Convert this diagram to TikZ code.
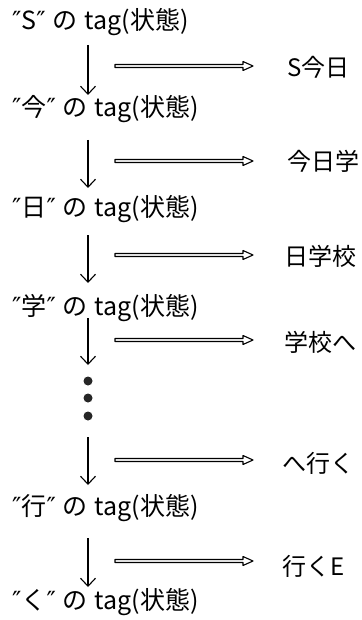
\documentclass[tikz,border=0pt]{standalone}
\usepackage{fontspec}
\setmainfont{Noto Sans CJK JP}
\newfontfamily\qfont{DejaVu Sans}
\usetikzlibrary{arrows.meta,calc}
\newcommand\qm{{\qfont ″}}
\newcommand\gapw{\hspace{7pt}}
\tikzset{
  lbl/.style={anchor=base west, inner sep=0pt, font=\fontsize{25}{28}\selectfont},
  outt/.style={anchor=base west, inner sep=0pt, font=\fontsize{24}{28}\selectfont},
  down/.style={line width=1.1pt, -{Straight Barb[length=8pt,width=15pt,line width=1.1pt]}},
  dblline/.style={line width=1.1pt, line join=round},
  dotc/.style={circle, fill=black!85, inner sep=0pt, minimum size=9pt}
}
\newcommand\dblarr[2]{%
  \draw[dblline] ($(#1)+(0,1.5)$) -- ($(#2)+(-10,1.5)$) -- ($(#2)+(-10,4.5)$) -- (#2)
    -- ($(#2)+(-10,-4.5)$) -- ($(#2)+(-10,-1.5)$) -- ($(#1)+(0,-1.5)$) -- cycle;}
\begin{document}
\begin{tikzpicture}[x=1pt,y=-1pt]
\useasboundingbox (0,0) rectangle (361,620);
% state labels
\node[lbl] (s1) at (12,30)  {\qm S\qm\gapw の\gapw tag(状態)};
\node[lbl] (s2) at (12,117) {\qm 今\qm\gapw の\gapw tag(状態)};
\node[lbl] (s3) at (12,216) {\qm 日\qm\gapw の\gapw tag(状態)};
\node[lbl] (s4) at (12,315) {\qm 学\qm\gapw の\gapw tag(状態)};
\node[lbl] (s5) at (12,515) {\qm 行\qm\gapw の\gapw tag(状態)};
\node[lbl] (s6) at (12,609) {\qm く\qm\gapw の\gapw tag(状態)};
% dots
\node[dotc] (d1) at (88,381) {};
\node[dotc] (d2) at (88,398) {};
\node[dotc] (d3) at (88,416) {};
% down arrows
\coordinate (a1s) at (88,45);  \coordinate (a1e) at (88,95);
\coordinate (a2s) at (88,140); \coordinate (a2e) at (88,188);
\coordinate (a3s) at (88,235); \coordinate (a3e) at (88,283);
\coordinate (a4s) at (88,318); \coordinate (a4e) at (88,365);
\coordinate (a5s) at (88,437); \coordinate (a5e) at (88,485);
\coordinate (a6s) at (88,538); \coordinate (a6e) at (88,587);
\draw[down] (a1s) -- (a1e);
\draw[down] (a2s) -- (a2e);
\draw[down] (a3s) -- (a3e);
\draw[down] (a4s) -- (a4e);
\draw[down] (a5s) -- (a5e);
\draw[down] (a6s) -- (a6e);
% outputs
\node[outt] (o1) at (287,77)  {S今日};
\node[outt] (o2) at (287,171) {今日学};
\node[outt] (o3) at (284,265) {日学校};
\node[outt] (o4) at (284,351) {学校へ};
\node[outt] (o5) at (282,472) {へ行く};
\node[outt] (o6) at (282,575) {行くE};
% double arrows
\coordinate (p1) at (115,66);  \coordinate (q1) at (253,66);
\coordinate (p2) at (115,161); \coordinate (q2) at (253,161);
\coordinate (p3) at (115,255); \coordinate (q3) at (253,255);
\coordinate (p4) at (115,340); \coordinate (q4) at (253,340);
\coordinate (p5) at (115,460); \coordinate (q5) at (253,460);
\coordinate (p6) at (115,561); \coordinate (q6) at (253,561);
\dblarr{p1}{q1}
\dblarr{p2}{q2}
\dblarr{p3}{q3}
\dblarr{p4}{q4}
\dblarr{p5}{q5}
\dblarr{p6}{q6}
\end{tikzpicture}
\end{document}
